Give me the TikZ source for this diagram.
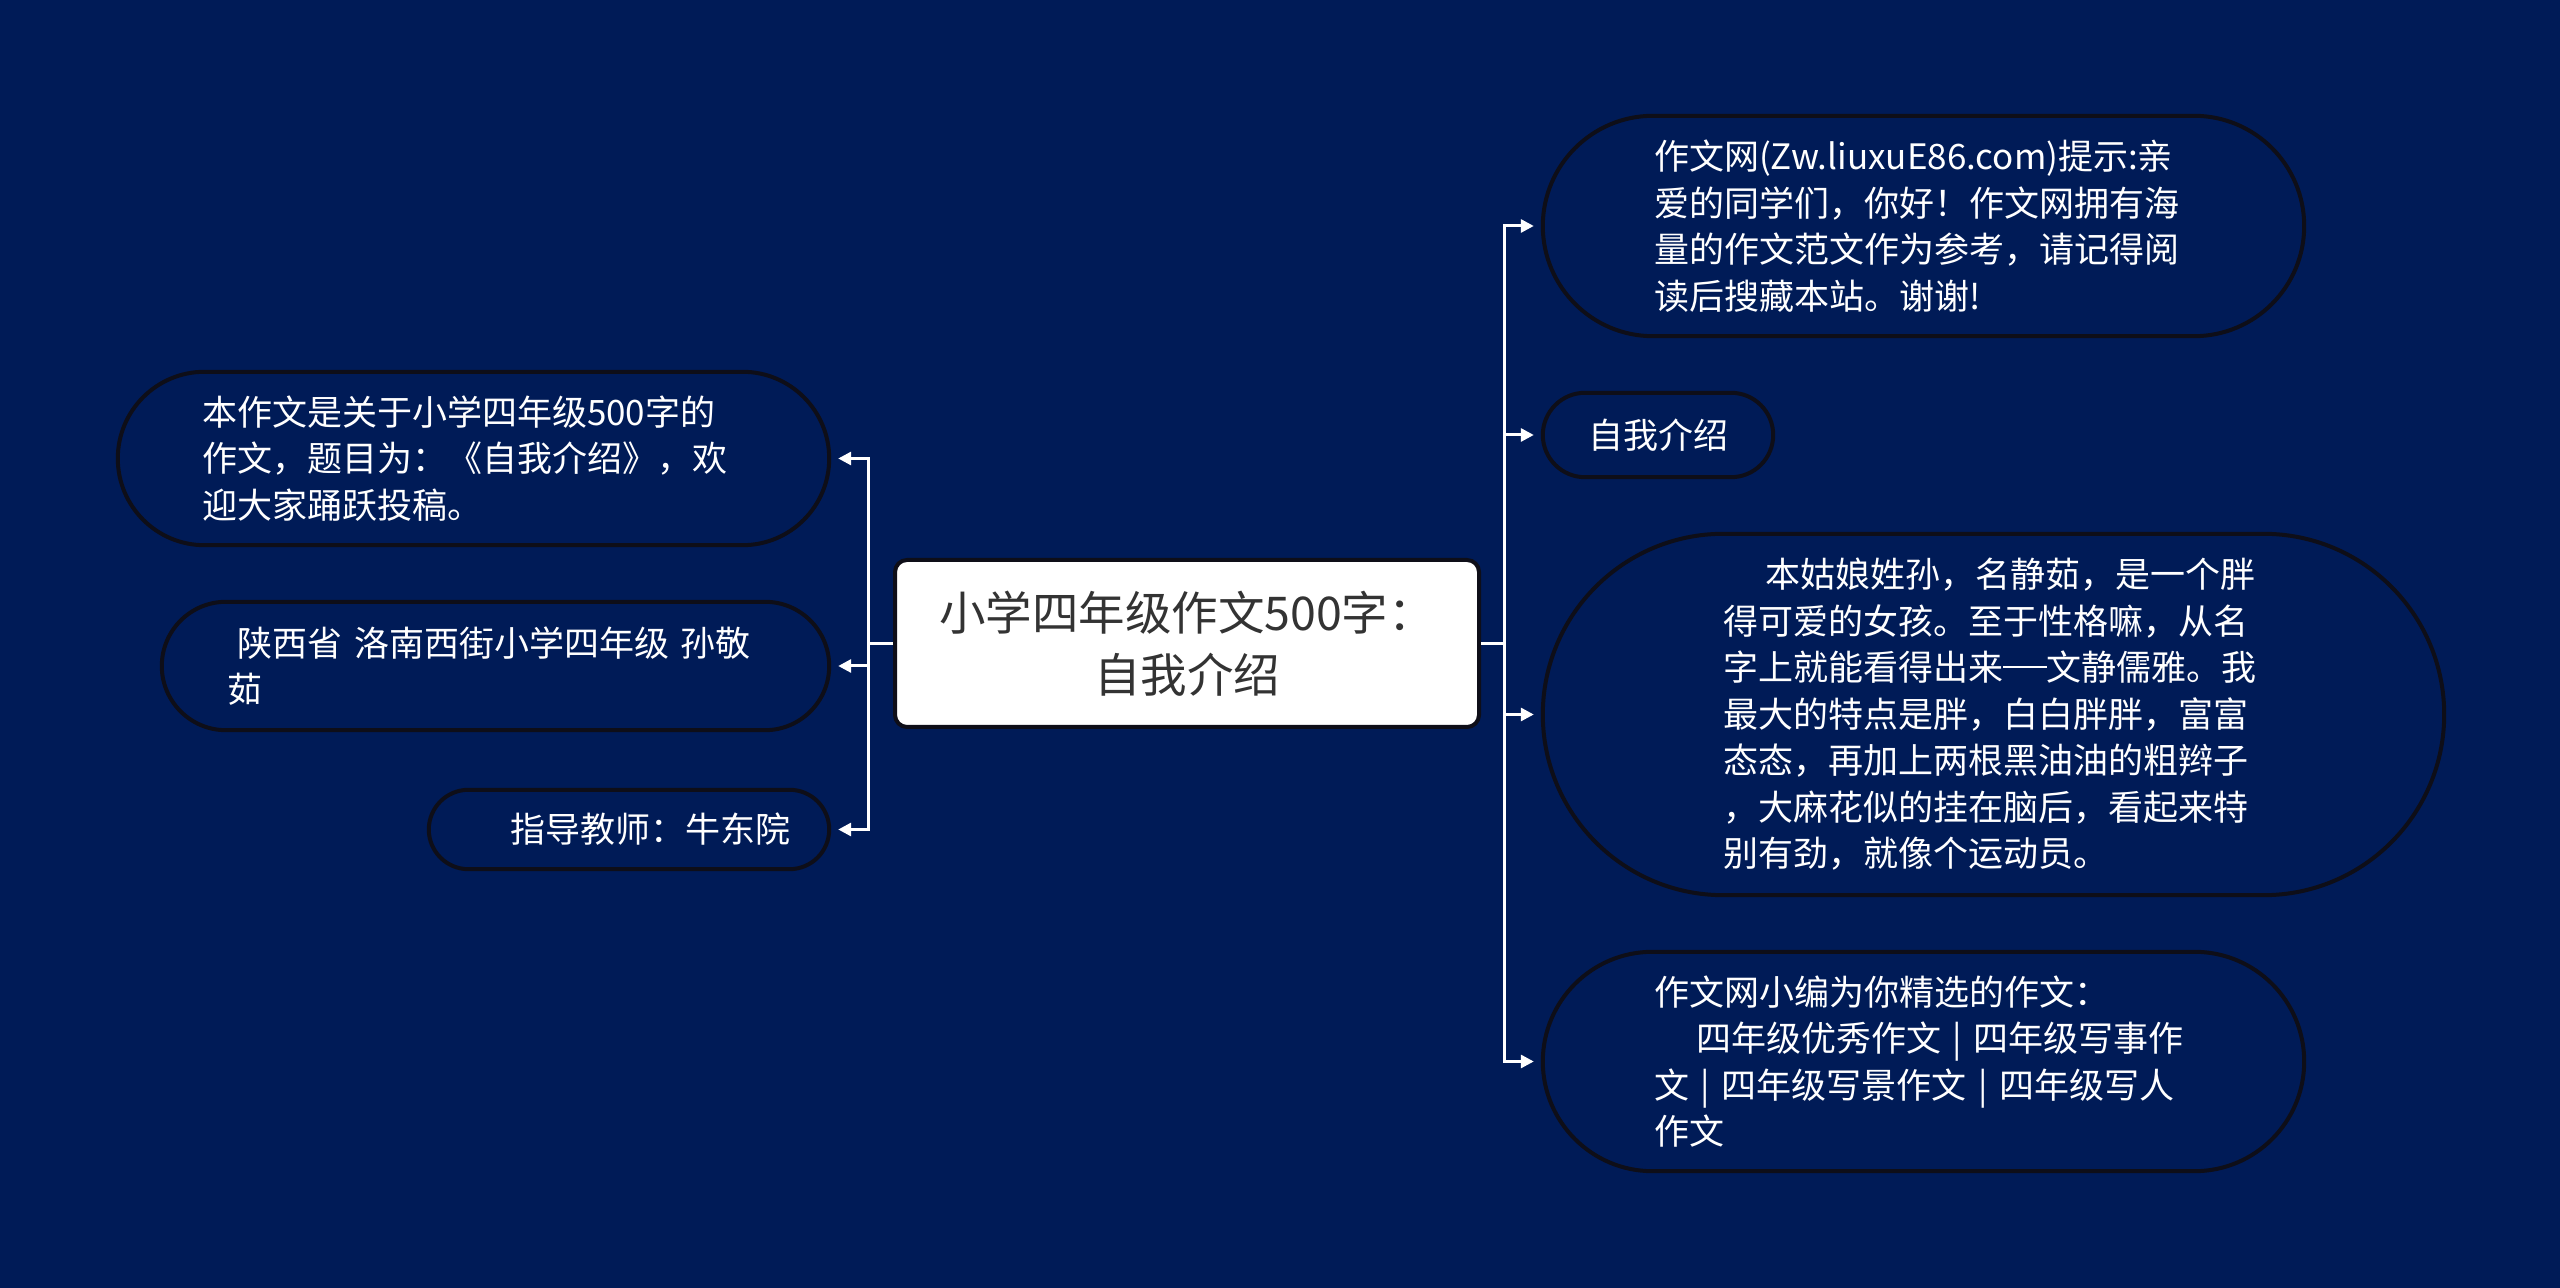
\documentclass[tikz,border=0pt]{standalone}
\usepackage{fontspec}
\setmainfont{Noto Sans CJK SC}
\usetikzlibrary{arrows.meta, calc, positioning}
\definecolor{navybg}{RGB}{0,27,87}
\definecolor{titlegray}{RGB}{51,51,51}
\definecolor{pilledge}{RGB}{14,14,24}
\tikzset{
    leafbox/.style={rectangle, text=white, align=left, inner sep=0pt, font=\fontsize{35pt}{46.5pt}\selectfont},
    pillline/.style={draw=pilledge, line width=4pt},
    titlebox/.style={rectangle, rounded corners=12pt, draw=pilledge, line width=4pt, fill=white, text=titlegray, align=center, font=\fontsize{46.5pt}{62pt}\selectfont},
    link/.style={white, line width=3pt, -{Triangle[length=13pt,width=13pt]}, shorten >=9pt},
}
\begin{document}
\begin{tikzpicture}[x=1pt,y=1pt]
% background
\fill[navybg] (0,0) rectangle (2560,1288);
\useasboundingbox (0,0) rectangle (2560,1288);

% central topic
\node[titlebox,minimum width=584pt,minimum height=167pt] (title) at (1187,644.5) {小学四年级作文500字：\\自我介绍};

% left branch
\node[leafbox,minimum width=711pt,minimum height=173pt,text width=543pt] (intro) at (473.5,829.5) {本作文是关于小学四年级500字的\\作文，题目为：《自我介绍》，欢\\迎大家踊跃投稿。};
\node[leafbox,minimum width=667pt,minimum height=128pt,text width=537pt] (school) at (495.5,622) {\hspace*{0.3em}陕西省 洛南西街小学四年级 孙敬\\茹};
\node[leafbox,minimum width=400pt,minimum height=79pt,text width=322pt,align=right] (teacher) at (629,458.5) {指导教师：牛东院};

% right branch
\node[leafbox,minimum width=761pt,minimum height=220pt,text width=539pt] (tip) at (1923.5,1062) {作文网(Zw.liuxuE86.com)提示:亲\\爱的同学们，你好！作文网拥有海\\量的作文范文作为参考，请记得阅\\读后搜藏本站。谢谢!};
\node[leafbox,minimum width=230pt,minimum height=84pt,align=center] (topic) at (1658,853) {自我介绍};
\node[leafbox,minimum width=901pt,minimum height=361pt,text width=541pt] (story) at (1993.5,573.5) {\hspace*{1.2em}本姑娘姓孙，名静茹，是一个胖\\得可爱的女孩。至于性格嘛，从名\\\mbox{字上就能看得出来\rule[0.36em]{1.25em}{0.06em}文静儒雅。我}\\最大的特点是胖，白白胖胖，富富\\态态，再加上两根黑油油的粗辫子\\，大麻花似的挂在脑后，看起来特\\别有劲，就像个运动员。};
\node[leafbox,minimum width=761pt,minimum height=219pt,text width=539pt] (more) at (1923.5,226.5) {作文网小编为你精选的作文：\\\hspace*{1.2em}四年级优秀作文 | 四年级写事作\\文 | 四年级写景作文 | 四年级写人\\作文};

% pill outlines
\foreach \b in {intro,school,teacher,tip,topic,story,more}
  \draw[pillline] let \p1=(\b.north east), \p2=(\b.south west), \n1={(\y1-\y2)/2} in
    ([xshift=-\n1]\b.north east) arc[start angle=90, end angle=-90, radius=\n1]
    -- ([xshift=\n1]\b.south west) arc[start angle=270, end angle=90, radius=\n1] -- cycle;

% connectors
\coordinate (lfork) at ($(title.west)+(-25,0)$);
\coordinate (rfork) at ($(title.east)+(23,0)$);
\draw[white,line width=3pt] (title.west) -- (lfork);
\draw[white,line width=3pt] (title.east) -- (rfork);
\foreach \b in {intro,school,teacher}
  \draw[link] (lfork) |- (\b.east);
\foreach \b in {tip,topic,story,more}
  \draw[link] (rfork) |- (\b.west);
\end{tikzpicture}
\end{document}
